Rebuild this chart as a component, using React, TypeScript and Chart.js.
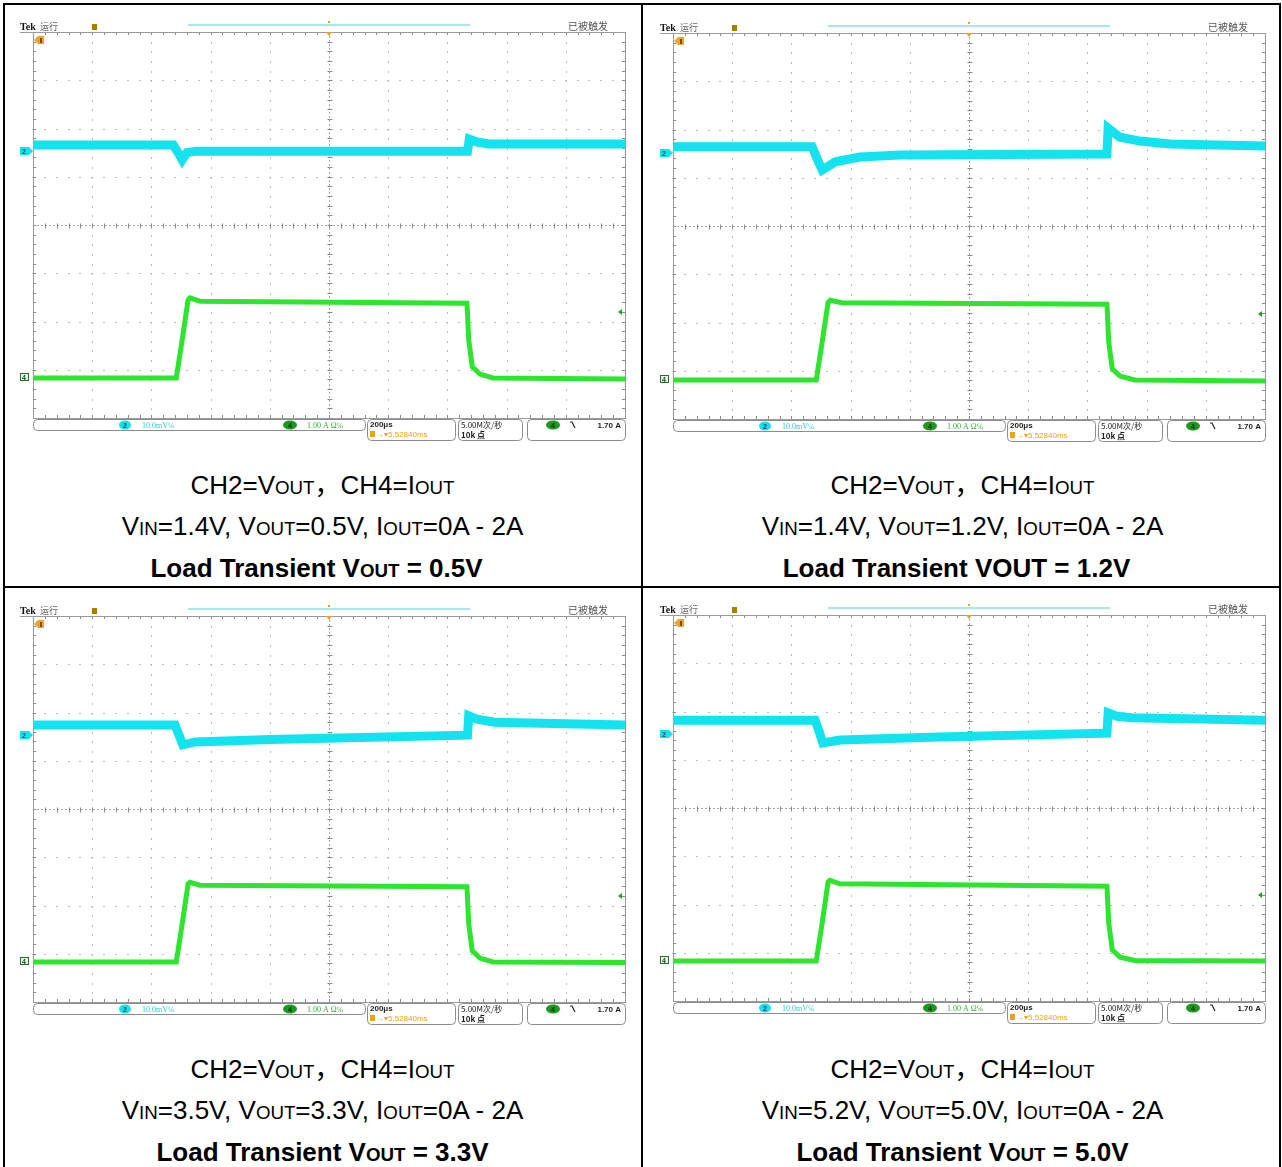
import React, { useEffect, useRef } from "react";
import { Chart, registerables } from "chart.js";
Chart.register(...registerables);

// ---- Data (graticule divisions: x 0..10 div, y -4..4 div) ----
const ch2X_A = [0, 2.37, 2.45, 2.52, 2.6, 2.75, 7.34, 7.37, 7.5, 7.7, 10];
const ch2Y_A = [1.66, 1.66, 1.5, 1.35, 1.5, 1.53, 1.53, 1.78, 1.72, 1.68, 1.68];
const ch4X_A = [0, 2.42, 2.52, 2.62, 2.65, 2.82, 7.33, 7.36, 7.42, 7.55, 7.77, 10];
const ch4Y_A = [-3.17, -3.17, -2.38, -1.55, -1.51, -1.58, -1.62, -2.38, -2.94, -3.09, -3.17, -3.19];

const ch2X_B = [0, 2.35, 2.45, 2.52, 2.74, 3.16, 3.83, 7.33, 7.35, 7.55, 7.89, 8.4, 10];
const ch2Y_B = [1.64, 1.64, 1.35, 1.16, 1.33, 1.43, 1.47, 1.49, 2.03, 1.84, 1.76, 1.7, 1.66];
const ch4X_B = [0, 2.42, 2.52, 2.62, 2.66, 2.85, 7.33, 7.36, 7.42, 7.55, 7.8, 10];
const ch4Y_B = [-3.19, -3.19, -2.4, -1.58, -1.54, -1.59, -1.62, -2.4, -2.96, -3.11, -3.19, -3.21];

const ch2X_C = [0, 2.4, 2.47, 2.53, 2.74, 4.0, 7.34, 7.36, 7.5, 7.8, 10];
const ch2Y_C = [1.74, 1.74, 1.52, 1.33, 1.39, 1.44, 1.53, 1.93, 1.86, 1.8, 1.74];
const ch4X_C = [0, 2.42, 2.52, 2.62, 2.65, 2.82, 7.33, 7.36, 7.42, 7.55, 7.77, 10];
const ch4Y_C = [-3.17, -3.17, -2.38, -1.55, -1.52, -1.58, -1.61, -2.38, -2.94, -3.09, -3.17, -3.18];

const ch2X_D = [0, 2.4, 2.47, 2.53, 2.82, 4.5, 7.33, 7.35, 7.5, 7.75, 10];
const ch2Y_D = [1.82, 1.82, 1.58, 1.35, 1.41, 1.47, 1.55, 1.97, 1.9, 1.87, 1.82];
const ch4X_D = [0, 2.42, 2.52, 2.62, 2.65, 2.82, 7.33, 7.36, 7.42, 7.55, 7.8, 10];
const ch4Y_D = [-3.17, -3.17, -2.38, -1.53, -1.5, -1.57, -1.62, -2.38, -2.94, -3.09, -3.16, -3.17];

// marker levels (divisions)
const ch2Marker = [1.53, 1.51, 1.53, 1.53];
const ch4Marker = [-3.15, -3.17, -3.15, -3.15];
const trigMarker = [-1.8, -1.82, -1.8, -1.8];

// scope labels
const topLeftLabel = "运行";
const topRightLabel = "已被触发";
const ch2Scale = "10.0mV℅";
const ch4Scale = "1.00 A Ω℅";
const timeBase = "200μs";
const trigPos = "5.52840ms";
const sampleRate = "5.00M次/秒";
const recordLen = "10k 点";
const trigLevel = "1.70 A";

// captions
const vinVals = ["1.4V", "1.4V", "3.5V", "5.2V"];
const voutVals = ["0.5V", "1.2V", "3.3V", "5.0V"];
const titleSub = [true, false, true, true];
const titleShift = [6, 6, 0, 0];

const CYAN = "#14e2ee";
const GREEN = "#2fe42f";

const zip = (xs: number[], ys: number[]) => xs.map((x, i) => ({ x, y: ys[i] }));

const scopePlugin = {
  id: "scope",
  beforeDatasetsDraw(chart: any, _args: any, opts: any) {
    const { ctx, chartArea: a, scales } = chart;
    const x = scales.x, y = scales.y;
    ctx.save();
    ctx.fillStyle = "#bdbdbd";
    for (let i = 1; i < 10; i++) {
      if (i === 5) continue;
      const px = Math.round(x.getPixelForValue(i));
      for (let k = -20; k <= 20; k++) {
        const py = Math.round(y.getPixelForValue(k * 0.2));
        ctx.fillRect(px, py, 1, 2);
      }
    }
    for (let j = -3; j <= 3; j++) {
      if (j === 0) continue;
      const py = Math.round(y.getPixelForValue(j));
      for (let k = 0; k <= 50; k++) {
        const px = Math.round(x.getPixelForValue(k * 0.2));
        ctx.fillRect(px - 1, py, 2, 1);
      }
    }
    const cx = Math.round(x.getPixelForValue(5)) + 0.5;
    const cy = Math.round(y.getPixelForValue(0)) + 0.5;
    ctx.strokeStyle = "#a8a8a8";
    ctx.lineWidth = 1;
    ctx.setLineDash([2, 2]);
    ctx.beginPath();
    ctx.moveTo(a.left, cy); ctx.lineTo(a.right, cy);
    ctx.moveTo(cx, a.top); ctx.lineTo(cx, a.bottom);
    ctx.stroke();
    ctx.setLineDash([]);
    ctx.strokeStyle = "#8a8a8a";
    ctx.beginPath();
    for (let k = 0; k <= 50; k++) {
      const px = Math.round(x.getPixelForValue(k * 0.2)) + 0.5;
      ctx.moveTo(px, cy - 2); ctx.lineTo(px, cy + 3);
      ctx.moveTo(px, a.top); ctx.lineTo(px, a.top + 3);
      ctx.moveTo(px, a.bottom); ctx.lineTo(px, a.bottom - 3);
    }
    for (let k = -20; k <= 20; k++) {
      const py = Math.round(y.getPixelForValue(k * 0.2)) + 0.5;
      ctx.moveTo(cx - 2, py); ctx.lineTo(cx + 3, py);
      ctx.moveTo(a.left, py); ctx.lineTo(a.left + 3, py);
      ctx.moveTo(a.right, py); ctx.lineTo(a.right - 3, py);
    }
    ctx.stroke();
    ctx.strokeStyle = "#9a9a9a";
    ctx.strokeRect(Math.round(a.left) + 0.5, Math.round(a.top) + 0.5, Math.round(a.right - a.left), Math.round(a.bottom - a.top));
    ctx.beginPath();
    ctx.moveTo(5, Math.round(a.top) + 0.5); ctx.lineTo(a.left, Math.round(a.top) + 0.5);
    ctx.stroke();
    ctx.restore();
  },
  afterDraw(chart: any, _args: any, opts: any) {
    const { ctx, chartArea: a, scales } = chart;
    const x = scales.x, y = scales.y;
    const idx = opts.index;
    ctx.save();
    ctx.textBaseline = "alphabetic";
    ctx.fillStyle = "#111";
    ctx.font = 'bold 10px "Liberation Serif", serif';
    ctx.fillText("Tek", 5, 18);
    ctx.fillStyle = "#666";
    ctx.font = '9px "Noto Sans CJK SC", sans-serif';
    ctx.fillText(topLeftLabel, 25, 18);
    ctx.fillStyle = "#b07a00";
    ctx.fillRect(77, 12, 5, 6);
    ctx.fillStyle = "#a9e6f2";
    ctx.fillRect(173, 12, 282, 2);
    const cx = Math.round(x.getPixelForValue(5));
    ctx.fillStyle = "#f0a020";
    ctx.fillRect(cx - 1, 9, 2, 2);
    ctx.beginPath();
    ctx.moveTo(cx - 3, a.top); ctx.lineTo(cx + 3, a.top); ctx.lineTo(cx, a.top + 4); ctx.closePath();
    ctx.fill();
    ctx.fillStyle = "#555";
    ctx.font = '10px "Noto Sans CJK SC", sans-serif';
    ctx.fillText(topRightLabel, 553, 18);
    ctx.fillStyle = "#f3a32a";
    ctx.beginPath();
    ctx.moveTo(a.left + 1, a.top + 8);
    ctx.lineTo(a.left + 5, a.top + 4);
    ctx.lineTo(a.left + 11, a.top + 4);
    ctx.lineTo(a.left + 11, a.top + 12);
    ctx.lineTo(a.left + 5, a.top + 12);
    ctx.closePath();
    ctx.fill();
    ctx.fillStyle = "#7a4a00";
    ctx.fillRect(a.left + 7, a.top + 6, 2, 5);

    const py2 = Math.round(y.getPixelForValue(ch2Marker[idx]));
    ctx.fillStyle = CYAN;
    ctx.beginPath();
    ctx.moveTo(a.left - 13, py2 - 4);
    ctx.lineTo(a.left - 4, py2 - 4);
    ctx.lineTo(a.left, py2);
    ctx.lineTo(a.left - 4, py2 + 4);
    ctx.lineTo(a.left - 13, py2 + 4);
    ctx.closePath();
    ctx.fill();
    ctx.fillStyle = "#0a5a66";
    ctx.font = 'bold 7px "Liberation Sans", sans-serif';
    ctx.fillText("2", a.left - 11, py2 + 3);

    ctx.strokeStyle = "#2a6a2a";
    ctx.lineWidth = 1;
    const p4 = Math.round(y.getPixelForValue(ch4Marker[idx]));
    ctx.fillStyle = "#e6ffe6";
    ctx.fillRect(a.left - 13, p4 - 4, 9, 8);
    ctx.strokeRect(a.left - 12.5, p4 - 3.5, 8, 7);
    ctx.fillStyle = "#1a4a1a";
    ctx.font = 'bold 7px "Liberation Sans", sans-serif';
    ctx.fillText("4", a.left - 11, p4 + 3);
    const pt = Math.round(y.getPixelForValue(trigMarker[idx]));
    ctx.fillStyle = "#22a022";
    ctx.beginPath();
    ctx.moveTo(a.right - 7, pt); ctx.lineTo(a.right - 3, pt - 3); ctx.lineTo(a.right - 3, pt + 3); ctx.closePath();
    ctx.fill();

    const rr = (x0: number, y0: number, w: number, h: number, r: number) => {
      ctx.beginPath();
      ctx.moveTo(x0 + r, y0);
      ctx.lineTo(x0 + w - r, y0);
      ctx.quadraticCurveTo(x0 + w, y0, x0 + w, y0 + r);
      ctx.lineTo(x0 + w, y0 + h - r);
      ctx.quadraticCurveTo(x0 + w, y0 + h, x0 + w - r, y0 + h);
      ctx.lineTo(x0 + r, y0 + h);
      ctx.quadraticCurveTo(x0, y0 + h, x0, y0 + h - r);
      ctx.lineTo(x0, y0 + r);
      ctx.quadraticCurveTo(x0, y0, x0 + r, y0);
      ctx.closePath();
      ctx.stroke();
    };
    const sb = Math.round(a.bottom) + 1;
    ctx.strokeStyle = "#8c8c8c";
    ctx.lineWidth = 1;
    rr(18.5, sb + 0.5, 332, 11, 4);
    rr(352.5, sb + 0.5, 88, 21, 4);
    rr(443.5, sb + 0.5, 64, 21, 4);
    rr(512.5, sb + 0.5, 98, 21, 4);
    ctx.fillStyle = CYAN;
    ctx.beginPath(); ctx.ellipse(110, sb + 6, 6, 4.5, 0, 0, Math.PI * 2); ctx.fill();
    ctx.fillStyle = "#0a4a55";
    ctx.font = 'bold 7px "Liberation Sans", sans-serif';
    ctx.fillText("2", 108, sb + 9);
    ctx.fillStyle = "#2bc7d6";
    ctx.font = '8px "Liberation Serif", serif';
    ctx.fillText(ch2Scale, 127, sb + 9);
    ctx.fillStyle = "#1a9a1a";
    ctx.beginPath(); ctx.ellipse(275, sb + 6, 7, 4.5, 0, 0, Math.PI * 2); ctx.fill();
    ctx.fillStyle = "#062806";
    ctx.font = 'bold 7px "Liberation Sans", sans-serif';
    ctx.fillText("4", 273, sb + 9);
    ctx.fillStyle = "#32b032";
    ctx.font = '8px "Liberation Serif", serif';
    ctx.fillText(ch4Scale, 292, sb + 9);
    ctx.fillStyle = "#222";
    ctx.font = 'bold 8px "Liberation Sans", sans-serif';
    ctx.fillText(timeBase, 355, sb + 8);
    ctx.fillStyle = "#f0a020";
    ctx.fillRect(355, sb + 12, 5, 6);
    ctx.font = '8px "Liberation Sans", sans-serif';
    ctx.fillText("→▾" + trigPos, 361, sb + 18);
    ctx.fillStyle = "#222";
    ctx.font = '8px "Noto Sans CJK SC", sans-serif';
    ctx.fillText(sampleRate, 446, sb + 9);
    ctx.font = 'bold 8px "Noto Sans CJK SC", sans-serif';
    ctx.fillText(recordLen, 446, sb + 19);
    ctx.fillStyle = "#1a9a1a";
    ctx.beginPath(); ctx.ellipse(538, sb + 6, 7, 4.5, 0, 0, Math.PI * 2); ctx.fill();
    ctx.fillStyle = "#062806";
    ctx.font = 'bold 7px "Liberation Sans", sans-serif';
    ctx.fillText("4", 536, sb + 9);
    ctx.strokeStyle = "#222";
    ctx.lineWidth = 1.2;
    ctx.beginPath(); ctx.moveTo(555, sb + 3); ctx.lineTo(557, sb + 3); ctx.lineTo(560, sb + 9); ctx.stroke();
    ctx.fillStyle = "#222";
    ctx.font = 'bold 8px "Liberation Sans", sans-serif';
    ctx.textAlign = "right";
    ctx.fillText(trigLevel, 606, sb + 9);
    ctx.restore();
  },
};

function Scope({ index, left, top, ch2, ch4 }: any) {
  const ref = useRef<HTMLCanvasElement>(null);
  useEffect(() => {
    const chart = new Chart(ref.current as HTMLCanvasElement, {
      type: "line",
      data: {
        datasets: [
          { data: ch4, borderColor: GREEN, borderWidth: 5, pointRadius: 0, tension: 0, fill: false },
          { data: ch2, borderColor: CYAN, borderWidth: 9, pointRadius: 0, tension: 0, fill: false },
        ],
      },
      options: {
        responsive: false,
        animation: false,
        devicePixelRatio: 1,
        parsing: false as any,
        layout: { padding: { left: 18, right: 10, top: 20, bottom: 26 } },
        scales: {
          x: { type: "linear", min: 0, max: 10, display: false },
          y: { type: "linear", min: -4, max: 4, display: false },
        },
        plugins: {
          legend: { display: false },
          tooltip: { enabled: false },
          scope: { index },
        } as any,
      },
      plugins: [scopePlugin as any],
    });
    return () => chart.destroy();
  }, []);
  return (
    <canvas
      ref={ref}
      width={620}
      height={432}
      style={{ position: "absolute", left, top, width: 620, height: 432 }}
    />
  );
}

const S = ({ children }: any) => <span style={{ fontSize: "0.72em" }}>{children}</span>;
const Comma = () => <span style={{ fontFamily: '"Noto Sans CJK SC"', lineHeight: "18px" }}>，</span>;

function Caption({ i, cx, y0 }: any) {
  const base: any = {
    position: "absolute",
    left: cx - 300,
    width: 600,
    textAlign: "center",
    fontSize: 26,
    lineHeight: "26px",
    whiteSpace: "nowrap",
    color: "#000",
  };
  return (
    <>
      <div style={{ ...base, top: y0 - 13 }}>
        CH2=V<S>OUT</S><Comma />CH4=I<S>OUT</S>
      </div>
      <div style={{ ...base, top: y0 + 28 }}>
        V<S>IN</S>={vinVals[i]}, V<S>OUT</S>={voutVals[i]}, I<S>OUT</S>=0A - 2A
      </div>
      <div style={{ ...base, top: y0 + 70, left: cx - 300 - titleShift[i], fontWeight: "bold" }}>
        Load Transient {titleSub[i] ? <>V<S>OUT</S></> : "VOUT"} = {voutVals[i]}
      </div>
    </>
  );
}

const panels = [
  { index: 0, ox: 0, oy: 0, ch2: zip(ch2X_A, ch2Y_A), ch4: zip(ch4X_A, ch4Y_A) },
  { index: 1, ox: 640, oy: 1, ch2: zip(ch2X_B, ch2Y_B), ch4: zip(ch4X_B, ch4Y_B) },
  { index: 2, ox: 0, oy: 584, ch2: zip(ch2X_C, ch2Y_C), ch4: zip(ch4X_C, ch4Y_C) },
  { index: 3, ox: 640, oy: 583, ch2: zip(ch2X_D, ch2Y_D), ch4: zip(ch4X_D, ch4Y_D) },
];

export default function App() {
  useEffect(() => {
    document.body.style.margin = "0";
    document.documentElement.style.overflow = "hidden";
  }, []);
  const line = (l: number, t: number, w: number, h: number) => (
    <div style={{ position: "absolute", left: l, top: t, width: w, height: h, background: "#000" }} />
  );
  return (
    <div
      style={{
        position: "absolute",
        left: 0,
        top: 0,
        width: 1282,
        height: 1167,
        background: "#fff",
        overflow: "hidden",
        fontFamily: '"Liberation Sans", Arial, sans-serif',
      }}
    >
      {panels.map((p) => (
        <Scope key={p.index} index={p.index} left={p.ox + 15} top={p.oy + 12} ch2={p.ch2} ch4={p.ch4} />
      ))}
      {panels.map((p) => (
        <Caption key={"c" + p.index} i={p.index} cx={p.ox + 322.5} y0={p.oy === 0 || p.oy === 1 ? 485 : 1069} />
      ))}
      {line(3, 3, 1278, 2)}
      {line(3, 3, 2, 1164)}
      {line(641, 3, 2, 1164)}
      {line(1279, 3, 2, 1164)}
      {line(3, 586, 1278, 2)}
    </div>
  );
}
